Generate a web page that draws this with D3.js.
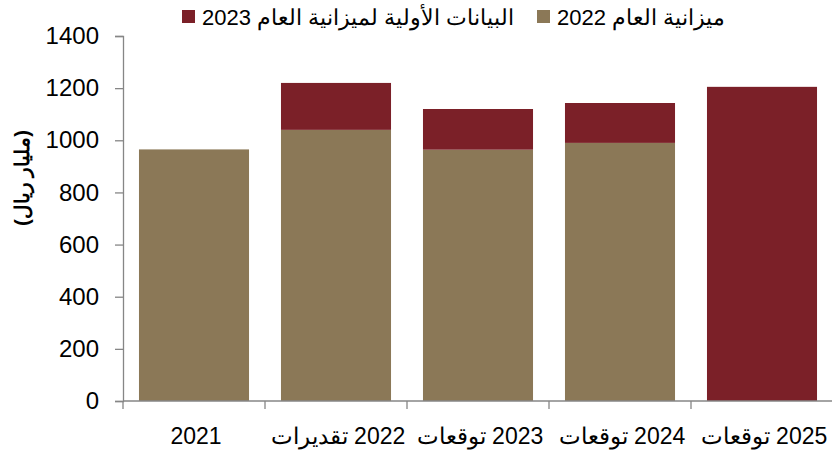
<!DOCTYPE html>
<html><head><meta charset="utf-8">
<script src="https://cdn.jsdelivr.net/npm/d3@7"></script>
<style>body{margin:0;background:#fff}svg{display:block}text{font-family:"Liberation Sans",Arial,sans-serif}</style>
</head><body><svg id="c" width="832" height="452"></svg>
<script>
const categories = ["2021", "2022 تقديرات", "2023 توقعات", "2024 توقعات", "2025 توقعات"];
const budget2022 = [965, 1040, 964, 990, 0];
const prelim2023 = [0, 180, 156, 153, 1205];
const seriesNames = ["ميزانية العام 2022", "البيانات الأولية لميزانية العام 2023"];
const seriesColors = ["#8B7857", "#7B2028"];
const yTicks = [0, 200, 400, 600, 800, 1000, 1200, 1400];
const yTitle = "(مليار ريال)";

const svg = d3.select("#c");
const x = d3.scaleBand().domain(categories).range([123, 833]).paddingInner(0.225).paddingOuter(0.1125);
const y = d3.scaleLinear().domain([0, 1400]).range([401, 36]);
const axisColor = "#868686";

const rows = categories.map((c, i) => ({cat: c, b: budget2022[i], p: prelim2023[i]}));
const stack = d3.stack().keys(["b", "p"])(rows);
svg.append("g").selectAll("g").data(stack).join("g")
  .attr("fill", (d, i) => seriesColors[i])
  .selectAll("rect").data(d => d.filter(s => s[1] - s[0] > 0)).join("rect")
  .attr("x", d => x(d.data.cat)).attr("width", x.bandwidth())
  .attr("y", d => y(d[1])).attr("height", d => y(d[0]) - y(d[1]));

// y axis
const ya = svg.append("g").attr("transform", "translate(123,0)")
  .call(d3.axisLeft(y).tickValues(yTicks).tickSize(8).tickPadding(16).tickFormat(d3.format("d")));
ya.select(".domain").attr("stroke", axisColor).attr("stroke-width", 1.3);
ya.selectAll(".tick line").attr("stroke", axisColor).attr("stroke-width", 1.3);
ya.selectAll("text").attr("font-size", 24).attr("fill", "#000").attr("font-family", "Liberation Sans, Arial");

// x axis
const xa = svg.append("g").attr("transform", "translate(0,401)");
xa.append("line").attr("x1", 123).attr("x2", 833).attr("stroke", axisColor).attr("stroke-width", 1.3);
const bounds = d3.range(categories.length + 1).map(i => 123 + i * x.step());
xa.selectAll("line.t").data(bounds).join("line").attr("class", "t")
  .attr("x1", d => d).attr("x2", d => d).attr("y1", 0).attr("y2", 8)
  .attr("stroke", axisColor).attr("stroke-width", 1.3);
xa.selectAll("text").data(categories).join("text")
  .attr("x", d => x(d) + x.bandwidth() / 2 + 2).attr("y", 43)
  .attr("text-anchor", "middle").attr("direction", "rtl")
  .attr("font-size", 23).attr("fill", "#000").text(d => d);

// y title
svg.append("text").attr("transform", "translate(29,178) rotate(-90)")
  .attr("text-anchor", "middle").attr("direction", "rtl")
  .attr("font-size", 20).attr("font-weight", "bold").text(yTitle);

// legend
const legendItems = [{name: seriesNames[1], color: seriesColors[1], x: 182}, {name: seriesNames[0], color: seriesColors[0], x: 537}];
legendItems.forEach(it => {
  svg.append("rect").attr("x", it.x).attr("y", 10).attr("width", 13).attr("height", 13).attr("fill", it.color);
  const t = svg.append("text").attr("x", 0).attr("y", 25).attr("direction", "rtl")
    .attr("font-size", 22).attr("fill", "#000").text(it.name);
  const bb = t.node().getBBox();
  t.attr("transform", `translate(${it.x + 20 - bb.x},0)`);
});
</script></body></html>
